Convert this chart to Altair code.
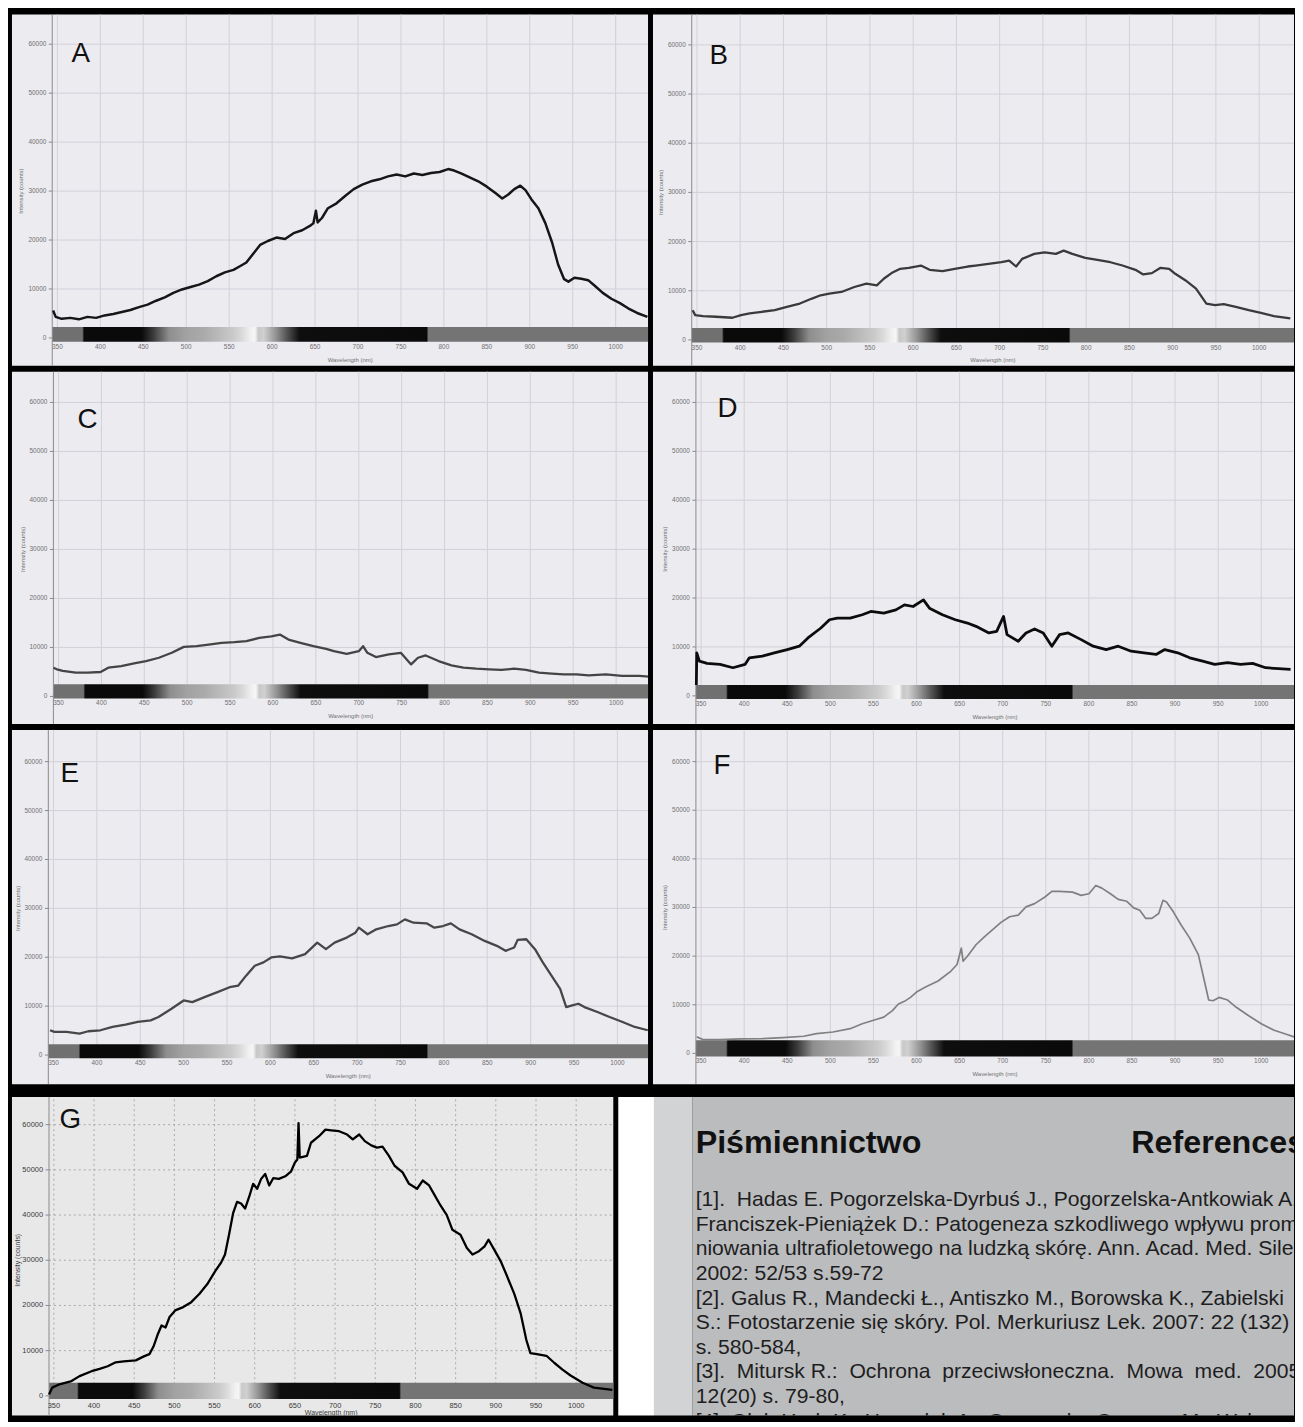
import altair as alt
import pandas as pd

# ---------------- data ----------------
X_TICKS = [350, 400, 450, 500, 550, 600, 650, 700, 750, 800, 850, 900, 950, 1000]
Y_TICKS = [0, 10000, 20000, 30000, 40000, 50000, 60000]

A_WL = [345, 348, 355, 365, 375, 385, 395, 405, 415, 425, 435, 445, 455, 465, 475, 485, 495, 505, 515, 525,
        535, 545, 555, 562, 570, 578, 586, 595, 605, 615, 625, 635, 645, 648, 651, 653, 658, 665, 675, 685,
        695, 705, 715, 725, 735, 745, 755, 765, 775, 785, 795, 805, 812, 820, 830, 840, 850, 860, 868, 875,
        882, 889, 895, 902, 910, 918, 926, 933, 940, 945, 952, 960, 968, 976, 985, 995, 1005, 1015, 1025, 1037]
A_VAL = [5600, 4300, 3900, 4100, 3800, 4300, 4100, 4600, 4900, 5300, 5700, 6300, 6800, 7600, 8300, 9200, 9900, 10400, 10900, 11600,
         12600, 13400, 13900, 14600, 15400, 17200, 19000, 19800, 20500, 20200, 21400, 22000, 23000, 23400, 26000, 23600, 24500, 26500, 27500, 29000,
         30400, 31300, 32000, 32400, 33000, 33400, 33000, 33600, 33300, 33700, 33900, 34500, 34200, 33600, 32800, 32000, 30900, 29600, 28500, 29300,
         30400, 31100, 30200, 28300, 26500, 23500, 19500, 15000, 12000, 11500, 12300, 12100, 11800, 10600, 9200, 8000, 7100, 6000, 5100, 4300]

B_WL = [345, 348, 357, 372, 391, 401, 411, 425, 440, 454, 469, 483, 493, 503, 517, 532, 546, 558, 566, 575,
        585, 595, 609, 619, 634, 648, 663, 672, 687, 702, 711, 719, 726, 740, 752, 765, 774, 784, 799, 813,
        828, 842, 857, 866, 876, 886, 896, 903, 915, 927, 939, 949, 959, 973, 988, 1002, 1017, 1036]
B_VAL = [6050, 5040, 4840, 4710, 4510, 5040, 5380, 5720, 6050, 6730, 7400, 8410, 9080, 9420, 9750, 10760, 11430, 11100, 12440, 13590,
         14460, 14660, 15130, 14260, 13990, 14460, 14930, 15130, 15470, 15800, 16140, 14930, 16480, 17490, 17820, 17490, 18160, 17490, 16680, 16270,
         15800, 15130, 14260, 13320, 13580, 14660, 14460, 13450, 12100, 10420, 7400, 7060, 7260, 6730, 6050, 5510, 4840, 4370]

C_WL = [344, 348, 355, 370, 384, 399, 408, 423, 438, 452, 467, 482, 496, 511, 525, 540, 555, 569, 584, 598,
        608, 618, 632, 647, 662, 671, 686, 700, 705, 710, 720, 735, 749, 761, 769, 778, 793, 808, 822, 837,
        852, 866, 881, 895, 910, 925, 939, 954, 968, 988, 1007, 1027, 1039]
C_VAL = [5870, 5530, 5200, 4860, 4860, 4990, 5870, 6210, 6750, 7220, 7900, 8910, 10120, 10260, 10590, 10930, 11070, 11270, 11940, 12280,
         12620, 11610, 10930, 10260, 9720, 9240, 8710, 9240, 10260, 8910, 8030, 8570, 8910, 6540, 7900, 8370, 7220, 6340, 5870, 5670,
         5530, 5400, 5670, 5400, 4860, 4660, 4520, 4520, 4320, 4520, 4180, 4180, 4050]

D_WL = [344.5, 345, 348, 357, 372, 387, 401, 406, 421, 435, 450, 464, 474, 489, 499, 508, 523, 537, 547, 562, 576,
        586, 596, 608, 615, 630, 645, 659, 669, 684, 693, 701, 705, 718, 727, 737, 747, 757, 766, 776, 791,
        805, 820, 834, 849, 864, 878, 888, 903, 917, 932, 946, 961, 976, 990, 1005, 1020, 1034]
D_VAL = [2200, 8800, 7100, 6630, 6430, 5750, 6430, 7780, 8120, 8800, 9470, 10150, 11840, 13870, 15560, 15900, 15900, 16580, 17250, 16920, 17590,
         18610, 18270, 19620, 17930, 16580, 15560, 14890, 14210, 12860, 13190, 16240, 12520, 11160, 12860, 13670, 12860, 10150, 12520, 12860, 11500,
         10150, 9470, 10150, 9130, 8800, 8460, 9470, 8800, 7780, 7100, 6430, 6770, 6430, 6630, 5750, 5550, 5410]

E_WL = [346, 351, 365, 380, 390, 404, 418, 433, 447, 462, 471, 486, 500, 510, 524, 539, 553, 563, 572, 582,
        592, 601, 611, 625, 640, 654, 664, 674, 688, 698, 702, 712, 722, 736, 746, 755, 765, 780, 789, 799,
        808, 818, 832, 847, 861, 871, 881, 885, 895, 905, 914, 924, 934, 941, 948, 955, 962, 977, 991, 1006,
        1020, 1035]
E_VAL = [5070, 4740, 4740, 4400, 4870, 5070, 5750, 6220, 6770, 7100, 7780, 9470, 11160, 10830, 11840, 12860, 13870, 14210, 16240, 18270,
         18950, 19960, 20160, 19760, 20640, 23000, 21650, 23000, 24020, 25030, 26050, 24700, 25710, 26390, 26730, 27740, 27060, 26930, 26050, 26390,
         26930, 25710, 24700, 23340, 22330, 21310, 21990, 23550, 23680, 21650, 18950, 16240, 13530, 9810, 10150, 10490, 9810, 8800, 7780, 6770,
         5750, 5070]

F_WL = [345, 352, 372, 396, 421, 445, 469, 484, 503, 523, 537, 552, 562, 572, 579, 586, 593, 601, 611, 625,
        640, 647, 652, 654, 659, 669, 679, 688, 698, 708, 718, 727, 737, 749, 757, 766, 781, 791, 800, 808,
        815, 825, 834, 844, 852, 859, 866, 873, 881, 886, 890, 898, 907, 917, 927, 934, 939, 944, 951, 961,
        971, 985, 1000, 1015, 1029, 1038]
F_VAL = [3390, 2840, 2840, 2980, 3050, 3250, 3520, 4060, 4400, 5080, 6090, 6910, 7450, 8800, 10160, 10700, 11510, 12730, 13680, 14890,
         16930, 18280, 21660, 18960, 19970, 22340, 24030, 25390, 26940, 28100, 28430, 30130, 30800, 32160, 33310, 33310, 33170, 32500, 32830, 34530,
         33990, 32830, 31680, 31280, 29920, 29450, 27760, 27760, 28770, 31480, 31140, 29110, 26400, 23700, 20310, 14890, 10970, 10830, 11510, 10970,
         9480, 7790, 6090, 4740, 3930, 3390]

G_WL = [344, 348, 357, 372, 382, 397, 407, 417, 427, 437, 452, 462, 469, 474, 479, 484, 489, 494, 501, 511,
        521, 531, 541, 551, 558, 563, 568, 573, 578, 583, 588, 593, 598, 603, 608, 613, 618, 623, 630, 638,
        645, 650, 653, 654.5, 656, 665, 670, 680, 688, 695, 705, 715, 722, 730, 737, 745, 752, 759, 767, 774,
        784, 792, 802, 809, 817, 824, 831, 839, 846, 856, 864, 871, 879, 886, 891, 898, 906, 913, 923, 931,
        938, 943, 951, 963, 973, 983, 993, 1008, 1022, 1045]
G_VAL = [300, 1820, 2550, 3270, 4360, 5450, 5960, 6550, 7420, 7640, 7850, 8730, 9240, 10900, 13450, 15560, 15130, 17450, 18900, 19640,
         20730, 22550, 24730, 27640, 29450, 31270, 35640, 40360, 42910, 42550, 41450, 44000, 46910, 45820, 48000, 49090, 46550, 48150, 48000, 48580,
         49600, 51640, 52300, 60360, 52730, 53090, 56000, 57450, 58900, 58760, 58550, 57820, 56730, 57820, 56360, 55420, 54910, 55130, 53090, 50910,
         49450, 46910, 45820, 47640, 46550, 44360, 42180, 40000, 36730, 35640, 32730, 31270, 32000, 33090, 34550, 32360, 29820, 26910, 22550, 18180,
         12360, 9450, 9240, 8870, 7270, 5820, 4510, 2910, 1820, 1310]

# grey rendering of the visible-spectrum bar (wavelength stops)
CB_WL = [344, 379, 381, 448, 462, 480, 500, 520, 540, 555, 565, 575, 580, 584, 590, 605, 618, 632, 780, 782, 1050]
CB_GRAY = ["#707070", "#707070", "#0a0a0a", "#0a0a0a", "#3c3c3c", "#8e8e8e", "#a2a2a2", "#aaaaaa", "#bcbcbc", "#cacaca",
           "#dadada", "#f0f0f0", "#f6f6f6", "#c8c8c8", "#d0d0d0", "#909090", "#505050", "#0e0e0e", "#0a0a0a", "#747474", "#747474"]

LETTERS = ["A", "B", "C", "D", "E", "F", "G"]
LETTER_WL = [366.4, 364.6, 372, 369, 358, 364.4, 357.2]
LETTER_VAL = [56350, 56100, 54740, 56960, 55740, 57550, 59350]

X_TITLE = "Wavelength (nm)"
Y_TITLE = "Intensity (counts)"

REF_TITLE_LEFT = "Piśmiennictwo"
REF_TITLE_RIGHT = "References"
NB = "\u00a0"
REF_LINES = [
    "[1]." + NB + " Hadas E. Pogorzelska-Dyrbuś J., Pogorzelska-Antkowiak A.,",
    "Franciszek-Pieniążek D.: Patogeneza szkodliwego wpływu promie-",
    "niowania ultrafioletowego na ludzką skórę. Ann. Acad. Med. Siles.",
    "2002: 52/53 s.59-72",
    "[2]. Galus R., Mandecki Ł., Antiszko M., Borowska K., Zabielski",
    "S.: Fotostarzenie się skóry. Pol. Merkuriusz Lek. 2007: 22 (132)",
    "s. 580-584,",
    ("[3]." + NB + " Mitursk R.:" + NB + " Ochrona" + NB + " przeciwsłoneczna." + NB + " Mowa" + NB
     + " med." + NB + " 2005:"),
    "12(20) s. 79-80,",
    "[4]. Olek-Hrab K., Hawrylak A., Czarnecka-Operacz M.: Wybrane",
]

SERIES = {"A": (A_WL, A_VAL), "B": (B_WL, B_VAL), "C": (C_WL, C_VAL), "D": (D_WL, D_VAL),
          "E": (E_WL, E_VAL), "F": (F_WL, F_VAL), "G": (G_WL, G_VAL)}

# ---------------- layout / style ----------------
AXIS_WL = 344
LAV = "#ecebf0"
PANELS = {
    "A": dict(xdom=[297.1, 1037.7], ydom=[-5676, 66085], w=641, h=354, cb=(-800, 2250), color="#161616", sw=2.5),
    "B": dict(xdom=[299.2, 1040.3], ydom=[-5247, 66195], w=646, h=354, cb=(-550, 2400), color="#3a3a3a", sw=2.3),
    "C": dict(xdom=[295.7, 1037.2], ydom=[-5610, 66282], w=641, h=355, cb=(-400, 2500), color="#444444", sw=2.3),
    "D": dict(xdom=[294.2, 1038.0], ydom=[-5743, 66294], w=646, h=355, cb=(-650, 2200), color="#0c0c0c", sw=2.8),
    "E": dict(xdom=[302.1, 1035.3], ydom=[-5946, 66497], w=641, h=357, cb=(-650, 2200), color="#474747", sw=2.3),
    "F": dict(xdom=[294.2, 1038.0], ydom=[-6327, 66531], w=646, h=357, cb=(-650, 2700), color="#808080", sw=1.7),
    "G": dict(xdom=[297.9, 1046.2], ydom=[-4360, 66114], w=606, h=321, cb=(-700, 2900), color="#000000", sw=2.3),
}
BOTTOM_H = 321
FONT = "Liberation Sans"


def make_panel(key):
    p = PANELS[key]
    is_g = key == "G"
    x0, x1 = p["xdom"]
    w = p["w"]
    px_per_nm = w / (x1 - x0)
    xs = alt.Scale(domain=p["xdom"], nice=False, zero=False)
    ys = alt.Scale(domain=p["ydom"], nice=False, zero=False)
    X = lambda f: alt.X(f, type="quantitative", scale=xs, axis=None)
    Y = lambda f: alt.Y(f, type="quantitative", scale=ys, axis=None)
    y1 = p["ydom"][1]
    cb_lo, cb_hi = p["cb"]

    grid_kw = dict(color="#a8a8a8", strokeWidth=1, strokeDash=[2, 3]) if is_g else dict(color="#d2d1d9", strokeWidth=1)
    txt_col = "#3a3a3a" if is_g else "#707070"
    fs = 7.5 if is_g else 6.5

    xt = [t for t in X_TICKS if x0 < t < x1]
    vg = pd.DataFrame({"x": xt, "y": cb_lo, "y2": y1})
    hg = pd.DataFrame({"y": Y_TICKS[1:], "x": AXIS_WL, "x2": x1})
    vrule = alt.Chart(vg).mark_rule(**grid_kw).encode(x=X("x"), y=Y("y"), y2="y2:Q")
    hrule = alt.Chart(hg).mark_rule(**grid_kw).encode(x=X("x"), x2="x2:Q", y=Y("y"))

    span = x1 - AXIS_WL
    stops = [alt.GradientStop(offset=max(0.0, min(1.0, (wl - AXIS_WL) / span)), color=c)
             for wl, c in zip(CB_WL, CB_GRAY)]
    grad = alt.LinearGradient(gradient="linear", stops=stops, x1=0, x2=1, y1=0, y2=0)
    cbdf = pd.DataFrame({"x": [AXIS_WL], "x2": [x1], "y": [cb_lo], "y2": [cb_hi]})
    cbar = alt.Chart(cbdf).mark_rect(fill=grad).encode(x=X("x"), x2="x2:Q", y=Y("y"), y2="y2:Q")

    # y axis: domain line, ticks, labels, title
    dom = alt.Chart(pd.DataFrame({"x": [AXIS_WL], "y": [p["ydom"][0]], "y2": [y1]})).mark_rule(
        color="#8a8a8a", strokeWidth=1).encode(x=X("x"), y=Y("y"), y2="y2:Q")
    ytk = alt.Chart(pd.DataFrame({"y": Y_TICKS, "x": AXIS_WL - 3.5 / px_per_nm, "x2": AXIS_WL})).mark_rule(
        color="#8a8a8a", strokeWidth=1).encode(x=X("x"), x2="x2:Q", y=Y("y"))
    ylab = alt.Chart(pd.DataFrame({"y": Y_TICKS, "x": AXIS_WL, "t": [str(v) for v in Y_TICKS]})).mark_text(
        align="right", baseline="middle", dx=-6, fontSize=fs, font=FONT, color=txt_col, clip=True).encode(
        x=X("x"), y=Y("y"), text="t:N")
    ytitle = alt.Chart(pd.DataFrame({"x": [AXIS_WL - 31 / px_per_nm], "y": [30000], "t": [Y_TITLE]})).mark_text(
        angle=270, align="center", baseline="middle", fontSize=fs - 0.5, font=FONT, color=txt_col, clip=True).encode(
        x=X("x"), y=Y("y"), text="t:N")
    # x axis: labels and title
    xlab = alt.Chart(pd.DataFrame({"x": xt, "y": cb_lo, "t": [str(v) for v in xt]})).mark_text(
        align="center", baseline="top", dy=3 if is_g else 2, fontSize=fs, font=FONT, color=txt_col, clip=True).encode(
        x=X("x"), y=Y("y"), text="t:N")
    xtitle = alt.Chart(pd.DataFrame({"x": [(AXIS_WL + x1) / 2], "y": [cb_lo], "t": [X_TITLE]})).mark_text(
        align="center", baseline="top", dy=10 if is_g else 15, fontSize=fs - 0.5, font=FONT, color=txt_col,
        clip=True).encode(x=X("x"), y=Y("y"), text="t:N")

    wl, val = SERIES[key]
    df = pd.DataFrame({"wl": wl, "val": val})
    line = alt.Chart(df).mark_line(color=p["color"], strokeWidth=p["sw"], clip=True, strokeJoin="round").encode(
        x=X("wl"), y=Y("val"))

    i = LETTERS.index(key)
    ldf = pd.DataFrame({"x": [LETTER_WL[i]], "y": [LETTER_VAL[i]], "t": [key]})
    letter = alt.Chart(ldf).mark_text(align="left", baseline="alphabetic", fontSize=28, font=FONT,
                                      color="#111111", clip=True).encode(x=X("x"), y=Y("y"), text="t:N")

    bg = "#e8e8e8" if is_g else LAV
    return alt.layer(vrule, hrule, cbar, dom, ytk, ylab, ytitle, xlab, xtitle, line, letter).properties(
        width=w, height=p["h"], view=alt.ViewBackground(fill=bg, stroke="transparent"))


def filler(width, height, fill):
    return alt.Chart(pd.DataFrame({"a": [0]})).mark_rect(opacity=0).encode(
        x=alt.value(0), x2=alt.value(1), y=alt.value(0), y2=alt.value(1)
    ).properties(width=width, height=height, view=alt.ViewBackground(fill=fill, stroke="transparent"))


one = pd.DataFrame({"a": [0]})
ref_t1 = alt.Chart(one).mark_text(text=REF_TITLE_LEFT, align="left", baseline="alphabetic", fontSize=32.5,
                                  fontWeight="bold", font=FONT, color="#111111", clip=True).encode(
    x=alt.value(3), y=alt.value(56))
ref_t2 = alt.Chart(one).mark_text(text=REF_TITLE_RIGHT, align="left", baseline="alphabetic", fontSize=32.5,
                                  fontWeight="bold", font=FONT, color="#111111", clip=True).encode(
    x=alt.value(442), y=alt.value(56))
ref_body = alt.Chart(one).mark_text(text=REF_LINES, align="left", baseline="alphabetic", fontSize=21.3,
                                    lineHeight=24.8, font=FONT, color="#1e1e1e", clip=True).encode(
    x=alt.value(3), y=alt.value(110))
refs = alt.layer(ref_t1, ref_t2, ref_body).properties(
    width=606, height=BOTTOM_H, view=alt.ViewBackground(fill="#bbbcbe", stroke="transparent"))

row1 = alt.hconcat(make_panel("A"), make_panel("B"), spacing=4)
row2 = alt.hconcat(make_panel("C"), make_panel("D"), spacing=4)
row3 = alt.hconcat(make_panel("E"), make_panel("F"), spacing=4)
bottom = alt.hconcat(
    make_panel("G"),
    alt.hconcat(filler(36, BOTTOM_H, "#ffffff"), filler(39, BOTTOM_H, "#d2d3d5"), refs, spacing=0),
    spacing=4)

chart = alt.vconcat(alt.vconcat(row1, row2, row3, spacing=4), bottom, spacing=11).properties(
    background="#000000", padding={"left": 4, "top": 0, "right": 0, "bottom": 0}
).configure_view(strokeWidth=0)

chart.save("out.html", embed_options={"renderer": "svg", "actions": False})
